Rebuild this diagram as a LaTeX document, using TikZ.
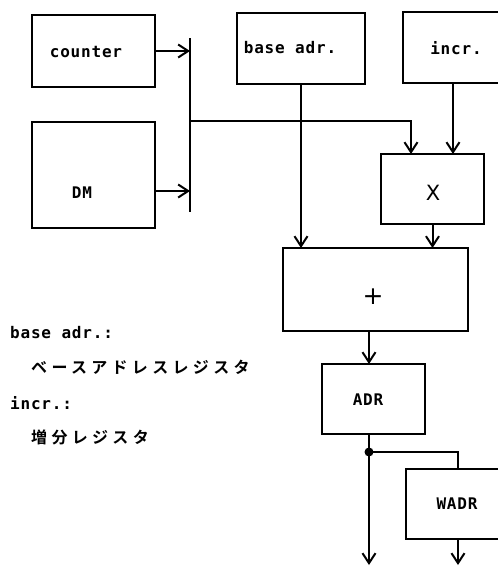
\documentclass[tikz,border=0pt]{standalone}
\usepackage{fontspec}
\usetikzlibrary{arrows.meta}
\newfontfamily\lblfont[LetterSpace=5]{DejaVu Sans Mono Bold}
\newfontfamily\jpfont[LetterSpace=27]{Noto Sans CJK JP Bold}
\newfontfamily\symfont{DejaVu Sans}
\begin{document}
\begin{tikzpicture}[x=1pt,y=-1pt,
  box/.style={draw,line width=1.6pt,rectangle,inner sep=0pt,outer sep=0pt},
  txt/.style={inner sep=0pt,font=\fontsize{16}{16}\lblfont},
  jtxt/.style={inner sep=0pt,anchor=west,font=\fontsize{16}{16}\jpfont},
  ltxt/.style={inner sep=0pt,anchor=west,font=\fontsize{16}{16}\lblfont},
  wire/.style={line width=2pt},
  arr/.style={wire,-{Straight Barb[length=10pt,width=13pt,line width=2pt]}}]
\clip (0,0) rectangle (498,566);
\fill[white] (0,0) rectangle (498,566);
% boxes
\node[box,minimum width=123pt,minimum height=72pt] (counter) at (93.5,51) {};
\node[box,minimum width=123pt,minimum height=106pt] (DM) at (93.5,175) {};
\node[box,minimum width=128pt,minimum height=71pt] (base) at (301,48.5) {};
\node[box,minimum width=100pt,minimum height=71pt] (incr) at (453,47.5) {};
\node[box,minimum width=103pt,minimum height=70pt] (X) at (432.5,189) {};
\node[box,minimum width=185pt,minimum height=83pt] (plus) at (375.5,289.5) {};
\node[box,minimum width=103pt,minimum height=70pt] (ADR) at (373.5,399) {};
\node[box,minimum width=104pt,minimum height=70pt] (WADR) at (458,504) {};
% texts in boxes
\node[txt] (tcounter) at (86,52) {counter};
\node[txt] (tDM) at (82,193) {DM};
\node[txt] (tbase) at (290,48) {base adr.};
\node[txt] (tincr) at (456,48) {incr.};
\node[inner sep=0pt,font=\fontsize{21}{21}\symfont] (tX) at (433,193) {X};
\node[inner sep=0pt,font=\fontsize{25}{25}\symfont] (tplus) at (373,297) {+};
\node[txt] (tADR) at (368,400) {ADR};
\node[txt] (tWADR) at (457,504) {WADR};
% legend
\node[ltxt] (l1) at (10,333) {base adr.:};
\node[jtxt] (l2) at (31,367) {ベースアドレスレジスタ};
\node[ltxt] (l3) at (10,403) {incr.:};
\node[jtxt] (l4) at (31,437) {増分レジスタ};
% bus
\coordinate (busT) at (190,38);
\coordinate (busB) at (190,212);
\coordinate (br) at (190,121);
\draw[wire] (busT) -- (busB);
\draw[arr] (counter.east) -- (counter.east -| busT);
\draw[arr] ([yshift=-16pt]DM.east) -- ([yshift=-16pt]DM.east -| busT);
\draw[arr] (br) -| ([xshift=-21.5pt]X.north);
\draw[arr] (incr.south) -- (incr.south |- X.north);
\draw[arr] (base.south) -- (base.south |- plus.north);
\draw[arr] (X.south) -- (X.south |- plus.north);
% lower part
\coordinate (dot) at (369,452);
\coordinate (out1) at (369,565);
\coordinate (out2) at (458,565);
\draw[arr] (plus.south -| dot) -- (ADR.north -| dot);
\draw[wire] (ADR.south -| dot) -- (dot);
\draw[arr] (dot) -- (out1);
\draw[wire] (dot) -| (WADR.north);
\draw[arr] (WADR.south) -- (out2);
\fill (dot) circle (4.5pt);
\end{tikzpicture}
\end{document}
